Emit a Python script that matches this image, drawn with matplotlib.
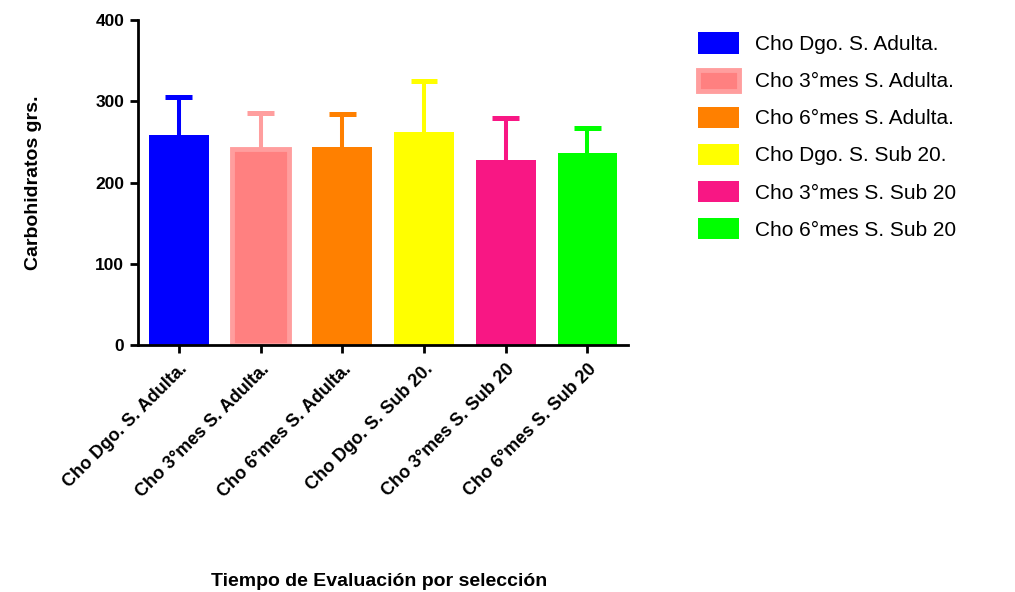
import matplotlib.pyplot as plt
import numpy as np

plt.rcParams['font.family'] = ['Liberation Sans', 'DejaVu Sans']

# Mean carbohydrate intake per group and the upper error (SD)
grupos = ['Cho Dgo. S. Adulta.', 'Cho 3°mes S. Adulta.', 'Cho 6°mes S. Adulta.',
          'Cho Dgo. S. Sub 20.', 'Cho 3°mes S. Sub 20', 'Cho 6°mes S. Sub 20']
medias = [259, 242, 244, 262, 228, 236]
desv = [46, 44, 40, 63, 51, 31]

relleno = ['#0000ff', '#ff8080', '#ff8000', '#ffff00', '#f81784', '#00ff00']
borde = ['#0000ff', '#ff9e9e', '#ff8000', '#ffff00', '#f81784', '#00ff00']
grosor = [0, 3.5, 0, 0, 0, 0]

fig = plt.figure(figsize=(10.15, 5.92), dpi=100)
ax = fig.add_axes([0.136, 0.417, 0.483, 0.549])

x = np.arange(len(grupos))
ancho = 0.73
for i in range(len(grupos)):
    w = ancho - (0.04 if grosor[i] else 0)
    ax.bar(x[i], medias[i], width=w, color=relleno[i], edgecolor=borde[i],
           linewidth=grosor[i], label=grupos[i], zorder=2)
    # upper error bar only: stem from the bar top plus a cap
    tope = medias[i] + desv[i]
    ax.vlines(x[i], medias[i], tope, color=borde[i], linewidth=2.9, zorder=1)
    ax.hlines(tope, x[i] - 0.165, x[i] + 0.165, color=borde[i],
              linewidth=3.6, zorder=1)

ax.set_xlim(-0.5, 5.5)
ax.set_ylim(0, 400)
ax.set_yticks([0, 100, 200, 300, 400])
ax.set_xticks(x)
ax.set_xticklabels(grupos, rotation=45, ha='right', rotation_mode='anchor',
                   fontsize=13, fontweight='bold')
for lab in ax.get_yticklabels():
    lab.set_fontweight('bold')
    lab.set_fontsize(12.5)

for lado in ['top', 'right']:
    ax.spines[lado].set_visible(False)
for lado in ['left', 'bottom']:
    ax.spines[lado].set_linewidth(2)
ax.tick_params(width=2, length=6, pad=4)
ax.tick_params(axis='x', pad=5)

ax.set_ylabel('Carbohidratos grs.', fontsize=14, fontweight='bold', labelpad=38)
fig.text(0.374, 0.004, 'Tiempo de Evaluación por selección', ha='center',
         va='bottom', fontsize=14, fontweight='bold')

leg = ax.legend(loc='upper left', bbox_to_anchor=(1.104, 1.02), frameon=False,
                fontsize=15, handlelength=1.95, handleheight=1.2,
                labelspacing=0.74, handletextpad=0.8)

fig.savefig('out.png', dpi=100)
